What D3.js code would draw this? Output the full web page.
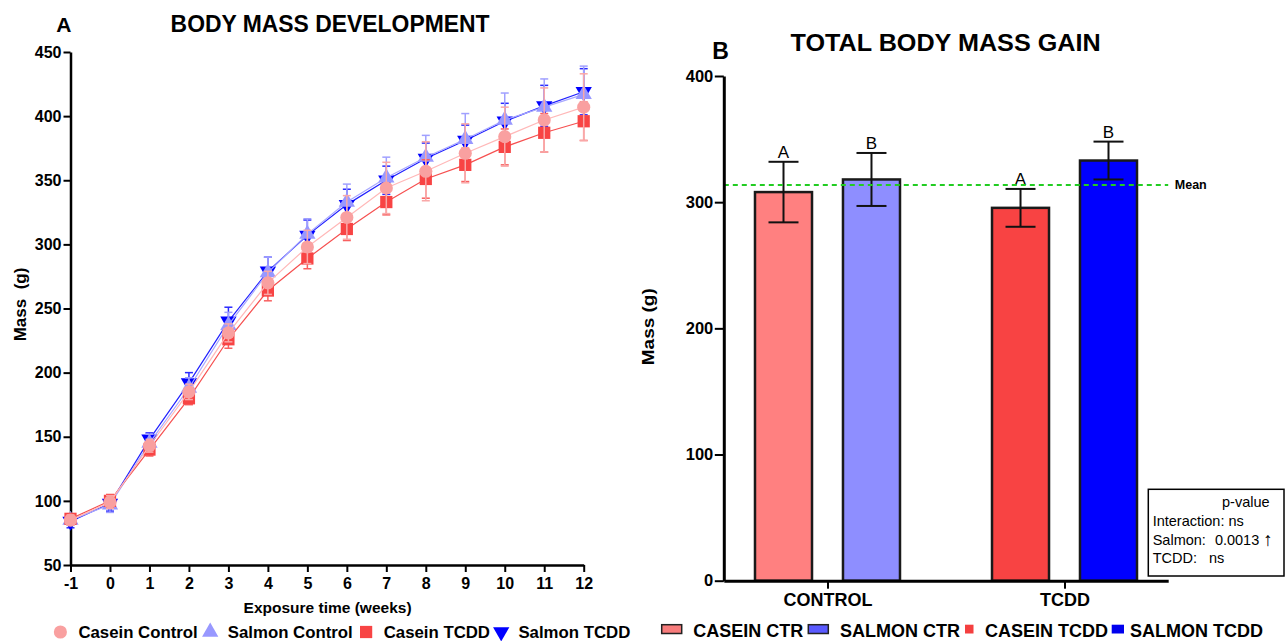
<!DOCTYPE html>
<html>
<head>
<meta charset="utf-8">
<script src="https://cdn.jsdelivr.net/npm/d3@7"></script>
<style>
  html, body { margin: 0; padding: 0; background: #fff; }
  svg { display: block; font-family: "Liberation Sans", Arial, Helvetica, sans-serif; }
</style>
</head>
<body>
<svg id="fig" width="1287" height="641"></svg>
<script>
// ---------- Panel A: body mass per week (mean and SD, g) ----------
const weeks = [-1, 0, 1, 2, 3, 4, 5, 6, 7, 8, 9, 10, 11, 12];
const caseinControl   = [85, 99, 143, 185, 231, 270, 298, 321, 344, 357, 371, 384, 397, 407];
const caseinControlSD = [4, 5, 5, 6, 7, 9, 13, 17, 20, 23, 23, 23, 25, 26];
const salmonControl   = [85, 97, 145, 188, 237, 278, 308, 333, 352, 368, 382, 397, 407, 417];
const salmonControlSD = [4, 6, 7, 8, 10, 12, 12, 14, 16, 17, 20, 21, 22, 22];
const caseinTCDD      = [86, 100, 140, 180, 226, 264, 289, 312, 333, 351, 362, 376, 387, 396];
const caseinTCDDSD    = [4, 5, 5, 5, 7, 8, 8, 9, 10, 15, 13, 14, 15, 15];
const salmonTCDD      = [84, 98, 148, 192, 240, 279, 307, 331, 350, 367, 381, 396, 408, 419];
const salmonTCDDSD    = [5, 6, 5, 8, 11, 11, 12, 12, 11, 12, 12, 14, 16, 18];
const massTicksA = [50, 100, 150, 200, 250, 300, 350, 400, 450];

// ---------- Panel B: total body mass gain (mean and SD, g) ----------
const groupNames = ["CONTROL", "TCDD"];
const barNames   = ["CASEIN CTR", "SALMON CTR", "CASEIN TCDD", "SALMON TCDD"];
const barGroup   = ["CONTROL", "CONTROL", "TCDD", "TCDD"];
const barDiet    = ["CASEIN", "SALMON", "CASEIN", "SALMON"];
const barGain    = [308, 318, 295.5, 333];
const barSD      = [24, 21, 15, 15];
const barLetters = ["A", "B", "A", "B"];
const massTicksB = [0, 100, 200, 300, 400];
const pValueLabels = ["Interaction:", "Salmon:", "TCDD:"];
const pValues      = ["ns", "0.0013", "ns"];
const pArrows      = ["", "\u2191", ""];

const svg = d3.select("#fig");

function styleAxis(g, fontSize, domainWidth) {
  g.select(".domain").attr("stroke", "#000").attr("stroke-width", domainWidth);
  g.selectAll(".tick line").attr("stroke", "#000").attr("stroke-width", 2);
  g.selectAll(".tick text")
    .attr("fill", "#000")
    .attr("font-size", fontSize)
    .attr("font-weight", "bold")
    .attr("font-family", "Liberation Sans, Arial, sans-serif");
}

// =================== Panel A ===================
const xA = d3.scaleLinear().domain([-1, 12]).range([70.5, 583.7]);
const yA = d3.scaleLinear().domain([50, 450]).range([565, 52]);
const gA = svg.append("g");

gA.append("g")
  .attr("transform", `translate(${xA(-1)},0)`)
  .call(d3.axisLeft(yA).tickValues(massTicksA).tickSize(7).tickPadding(2).tickSizeOuter(0))
  .call(g => styleAxis(g, 16, 2.5));

gA.append("g")
  .attr("transform", `translate(0,${yA(50)})`)
  .call(d3.axisBottom(xA).tickValues(weeks).tickFormat(d => String(d))
        .tickSize(7).tickPadding(6).tickSizeOuter(0))
  .call(g => styleAxis(g, 16, 2.5));

gA.append("text").attr("x", 56.3).attr("y", 31.7)
  .attr("font-size", 21).attr("font-weight", "bold").text("A");
gA.append("text").attr("x", 170.6).attr("y", 31.7)
  .attr("font-size", 23).attr("font-weight", "bold")
  .attr("textLength", 319).attr("lengthAdjust", "spacingAndGlyphs")
  .text("BODY MASS DEVELOPMENT");
gA.append("text")
  .attr("transform", "translate(26,304.5) rotate(-90)")
  .attr("text-anchor", "middle").attr("font-size", 17).attr("font-weight", "bold")
  .style("white-space", "pre")
  .text("Mass  (g)");
gA.append("text").attr("x", 327.6).attr("y", 613)
  .attr("text-anchor", "middle").attr("font-size", 15.5).attr("font-weight", "bold")
  .text("Exposure time (weeks)");

const triUp = d3.symbol(d3.symbolTriangle, 115)();
const circ  = d3.symbol(d3.symbolCircle, 135)();
const sq    = d3.symbol(d3.symbolSquare, 150)();

const seriesA = [
  { name: "Salmon TCDD", values: salmonTCDD, sd: salmonTCDDSD, fill: "#0000ff", line: "#2020ff", err: "#2a2aff", path: triUp, rot: 180 },
  { name: "Salmon Control", values: salmonControl, sd: salmonControlSD, fill: "#9898ff", line: "#a8a8ff", err: "#a0a0ff", path: triUp, rot: 0 },
  { name: "Casein TCDD", values: caseinTCDD, sd: caseinTCDDSD, fill: "#f84444", line: "#f65050", err: "#f86060", path: sq, rot: 0 },
  { name: "Casein Control", values: caseinControl, sd: caseinControlSD, fill: "#f9a0a0", line: "#ffb8b8", err: "#f9a8a8", path: circ, rot: 0 }
];

const lineGen = d3.line().x((d, i) => xA(weeks[i])).y(d => yA(d));

seriesA.forEach(s => {
  const g = gA.append("g");
  // error bars (mean ± SD)
  s.values.forEach((v, i) => {
    const x = xA(weeks[i]);
    const y0 = yA(v - s.sd[i]), y1 = yA(v + s.sd[i]);
    g.append("line").attr("x1", x).attr("x2", x).attr("y1", y0).attr("y2", y1)
      .attr("stroke", s.err).attr("stroke-width", 1.5);
    [y0, y1].forEach(yc => g.append("line")
      .attr("x1", x - 4).attr("x2", x + 4).attr("y1", yc).attr("y2", yc)
      .attr("stroke", s.err).attr("stroke-width", 1.5));
  });
  g.append("path").datum(s.values).attr("d", lineGen)
    .attr("fill", "none").attr("stroke", s.line).attr("stroke-width", 1.2);
  g.selectAll("path.mk").data(s.values).join("path").attr("class", "mk")
    .attr("d", s.path)
    .attr("transform", (d, i) => `translate(${xA(weeks[i])},${yA(d)}) rotate(${s.rot})`)
    .attr("fill", s.fill);
});

// legend of panel A
const legendA = [
  { name: "Casein Control", mx: 60.4, tx: 78.4 },
  { name: "Salmon Control", mx: 210.2, tx: 227.8 },
  { name: "Casein TCDD", mx: 366.1, tx: 383.7 },
  { name: "Salmon TCDD", mx: 501.2, tx: 518.4 }
];
legendA.forEach(l => {
  const s = seriesA.find(d => d.name === l.name);
  gA.append("path").attr("d", s.path)
    .attr("transform", `translate(${l.mx},632) rotate(${s.rot})`)
    .attr("fill", s.fill);
  gA.append("text").attr("x", l.tx).attr("y", 637.5)
    .attr("font-size", 16.8).attr("font-weight", "bold").text(l.name);
});

// =================== Panel B ===================
const yB = d3.scaleLinear().domain([0, 400]).range([580.7, 76]);
const xB = d3.scalePoint().domain(groupNames).range([723.8, 1168.2]).padding(0.4375);
const xSub = d3.scaleBand().domain(["CASEIN", "SALMON"]).range([-72.5, 72.5]).paddingInner(0.352);
const barFill = ["#ff8080", "#8e8eff", "#f84343", "#0000ff"];
const gB = svg.append("g");

const bars = barNames.map((n, i) => ({
  name: n, group: barGroup[i], diet: barDiet[i], v: barGain[i], sd: barSD[i],
  letter: barLetters[i], fill: barFill[i]
}));

gB.selectAll("rect.bar").data(bars).join("rect").attr("class", "bar")
  .attr("x", d => xB(d.group) + xSub(d.diet))
  .attr("width", xSub.bandwidth())
  .attr("y", d => yB(d.v))
  .attr("height", d => yB(0) - yB(d.v))
  .attr("fill", d => d.fill)
  .attr("stroke", "#1a1a1a").attr("stroke-width", 2.5);

bars.forEach(d => {
  const cx = xB(d.group) + xSub(d.diet) + xSub.bandwidth() / 2;
  const yt = yB(d.v + d.sd), yb = yB(d.v - d.sd);
  gB.append("line").attr("x1", cx).attr("x2", cx).attr("y1", yt).attr("y2", yb)
    .attr("stroke", "#111").attr("stroke-width", 2);
  [yt, yb].forEach(yc => gB.append("line")
    .attr("x1", cx - 15).attr("x2", cx + 15).attr("y1", yc).attr("y2", yc)
    .attr("stroke", "#111").attr("stroke-width", 2));
  gB.append("text").attr("x", cx).attr("y", yt - 4)
    .attr("text-anchor", "middle").attr("font-size", 17).text(d.letter);
});

// overall mean across the four groups
const meanGain = d3.mean(barGain);
gB.append("line")
  .attr("x1", 723.8).attr("x2", 1168.2).attr("y1", yB(meanGain)).attr("y2", yB(meanGain))
  .attr("stroke", "#22cc22").attr("stroke-width", 2).attr("stroke-dasharray", "5,4");
gB.append("text").attr("x", 1174.8).attr("y", yB(meanGain) + 4.5)
  .attr("font-size", 12.5).attr("font-weight", "bold").text("Mean");

gB.append("g")
  .attr("transform", "translate(723.8,0)")
  .call(d3.axisLeft(yB).tickValues(massTicksB).tickSize(9).tickPadding(1.5).tickSizeOuter(0))
  .call(g => styleAxis(g, 16.5, 3));

gB.append("g")
  .attr("transform", `translate(0,${yB(0)})`)
  .call(d3.axisBottom(xB).tickSize(8).tickPadding(5).tickSizeOuter(0))
  .call(g => styleAxis(g, 18, 3));

gB.append("text").attr("x", 712.2).attr("y", 59.3)
  .attr("font-size", 23).attr("font-weight", "bold").text("B");
gB.append("text").attr("x", 790.6).attr("y", 50.7)
  .attr("font-size", 24.5).attr("font-weight", "bold")
  .attr("textLength", 310).attr("lengthAdjust", "spacingAndGlyphs")
  .text("TOTAL BODY MASS GAIN");
gB.append("text")
  .attr("transform", "translate(654,326.7) rotate(-90)")
  .attr("text-anchor", "middle").attr("font-size", 17).attr("font-weight", "bold")
  .attr("textLength", 77).attr("lengthAdjust", "spacingAndGlyphs")
  .text("Mass (g)");

// p-value box
const pBox = gB.append("g");
pBox.append("rect").attr("x", 1148.3).attr("y", 489.3).attr("width", 135.7).attr("height", 86.7)
  .attr("fill", "#fff").attr("stroke", "#000").attr("stroke-width", 1.5);
pBox.append("text").attr("x", 1222).attr("y", 506.7).attr("font-size", 14.5).text("p-value");
const rowY = [526, 545, 563.3];
const valGap = [4, 9, 12];
pValueLabels.forEach((lab, i) => {
  const labNode = pBox.append("text").attr("x", 1152.7).attr("y", rowY[i])
    .attr("font-size", 14.5).text(lab).node();
  const vx = 1152.7 + labNode.getComputedTextLength() + valGap[i];
  const valNode = pBox.append("text").attr("x", vx).attr("y", rowY[i])
    .attr("font-size", 14.5).text(pValues[i]).node();
  if (pArrows[i]) {
    pBox.append("text").attr("x", vx + valNode.getComputedTextLength() + 4).attr("y", rowY[i] + 1)
      .attr("font-size", 19).text(pArrows[i]);
  }
});

// legend of panel B
const legendB = [
  { x: 661.7, w: 20, stroke: true, fill: "#f87c7c", tx: 693.3 },
  { x: 808.3, w: 20, stroke: true, fill: "#5a5aff", tx: 840 },
  { x: 965, w: 8.5, stroke: false, fill: "#f43f3f", tx: 985 },
  { x: 1111.7, w: 12.3, stroke: false, fill: "#0000ee", tx: 1130 }
];
legendB.forEach((l, i) => {
  gB.append("rect").attr("x", l.x).attr("y", 624.7).attr("width", l.w).attr("height", 8.8)
    .attr("fill", l.fill)
    .attr("stroke", l.stroke ? "#222" : "none").attr("stroke-width", 1.5);
  gB.append("text").attr("x", l.tx).attr("y", 636.5)
    .attr("font-size", 18).attr("font-weight", "bold").text(barNames[i]);
});
</script>
</body>
</html>
